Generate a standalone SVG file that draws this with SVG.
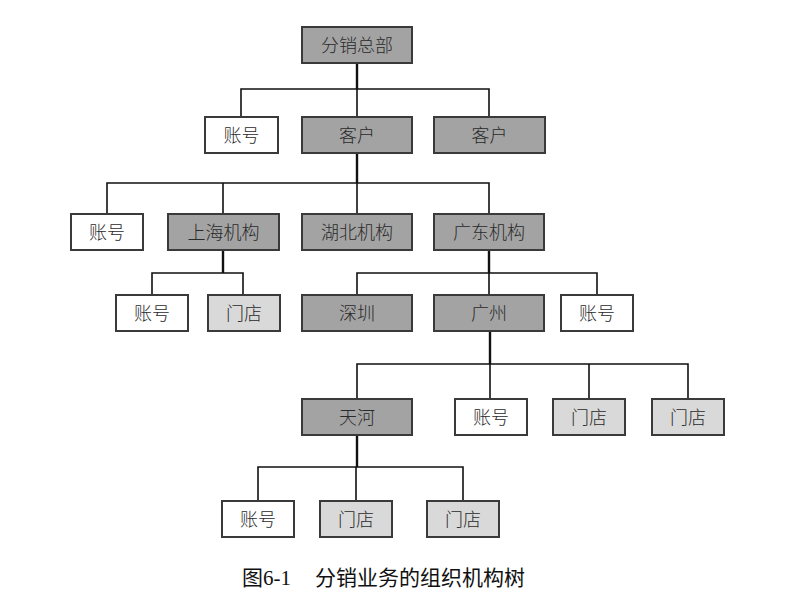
<svg xmlns="http://www.w3.org/2000/svg" width="801" height="602" viewBox="0 0 801 602">
<style>
.b rect{stroke:#3a3a3a;stroke-width:2}
.d rect{fill:#a3a3a3}
.l rect{fill:#d9d9d9}
.w rect{fill:#ffffff}
.b text{font-family:"Noto Sans CJK SC","Noto Sans",sans-serif;font-size:18px;font-weight:300;fill:#2a2a2a;text-anchor:middle}
#connectors path{fill:none;stroke:#111;stroke-width:1.6}
#connectors path.t{stroke-width:2.4}
.cap{font-family:"Liberation Serif","Noto Sans CJK SC",serif;font-size:21px;fill:#111}
</style>
<rect width="801" height="602" fill="#fff"/>
<g id="connectors">
<path class="t" d="M357 63V89"/>
<path d="M241 116V89H489V116M357 89V116"/>
<path class="t" d="M357 153V183"/>
<path d="M107 213V183H489V213M223 183V213M357 183V213"/>
<path class="t" d="M223 251V273"/>
<path d="M152 294V273H243V294"/>
<path class="t" d="M489 251V273"/>
<path d="M357 294V273H597V294M489 273V294"/>
<path class="t" d="M490 331V364"/>
<path d="M357 398V364H688V398M490 364V398M589 364V398"/>
<path class="t" d="M357 435V467"/>
<path d="M258 500V467H463V500M356 467V500"/>
</g>
<g id="n1" class="b d"><rect x="302" y="27" width="110" height="36"/><text x="357" y="51.5">分销总部</text></g>
<g id="n2" class="b w"><rect x="205" y="117" width="73" height="36"/><text x="241.5" y="141.5">账号</text></g>
<g id="n3" class="b d"><rect x="302" y="117" width="110" height="36"/><text x="357" y="141.5">客户</text></g>
<g id="n4" class="b d"><rect x="434" y="117" width="111" height="36"/><text x="489.5" y="141.5">客户</text></g>
<g id="n5" class="b w"><rect x="71" y="214" width="72" height="36"/><text x="107" y="238.5">账号</text></g>
<g id="n6" class="b d"><rect x="168" y="214" width="111" height="36"/><text x="223.5" y="238.5">上海机构</text></g>
<g id="n7" class="b d"><rect x="302" y="214" width="110" height="36"/><text x="357" y="238.5">湖北机构</text></g>
<g id="n8" class="b d"><rect x="434" y="214" width="110" height="36"/><text x="489" y="238.5">广东机构</text></g>
<g id="n9" class="b w"><rect x="116" y="295" width="72" height="36"/><text x="152" y="319.5">账号</text></g>
<g id="n10" class="b l"><rect x="208" y="295" width="72" height="36"/><text x="244" y="319.5">门店</text></g>
<g id="n11" class="b d"><rect x="302" y="295" width="110" height="36"/><text x="357" y="319.5">深圳</text></g>
<g id="n12" class="b d"><rect x="434" y="295" width="110" height="36"/><text x="489" y="319.5">广州</text></g>
<g id="n13" class="b w"><rect x="561" y="295" width="72" height="36"/><text x="597" y="319.5">账号</text></g>
<g id="n14" class="b d"><rect x="302" y="399" width="110" height="36"/><text x="357" y="423.5">天河</text></g>
<g id="n15" class="b w"><rect x="455" y="399" width="72" height="36"/><text x="491" y="423.5">账号</text></g>
<g id="n16" class="b l"><rect x="553" y="399" width="72" height="36"/><text x="589" y="423.5">门店</text></g>
<g id="n17" class="b l"><rect x="652" y="399" width="72" height="36"/><text x="688" y="423.5">门店</text></g>
<g id="n18" class="b w"><rect x="222" y="501" width="72" height="36"/><text x="258" y="525.5">账号</text></g>
<g id="n19" class="b l"><rect x="320" y="501" width="72" height="36"/><text x="356" y="525.5">门店</text></g>
<g id="n20" class="b l"><rect x="427" y="501" width="72" height="36"/><text x="463" y="525.5">门店</text></g>
<text class="cap" x="242" y="585">图6-1<tspan x="315">分销业务的组织机构树</tspan></text>
</svg>
